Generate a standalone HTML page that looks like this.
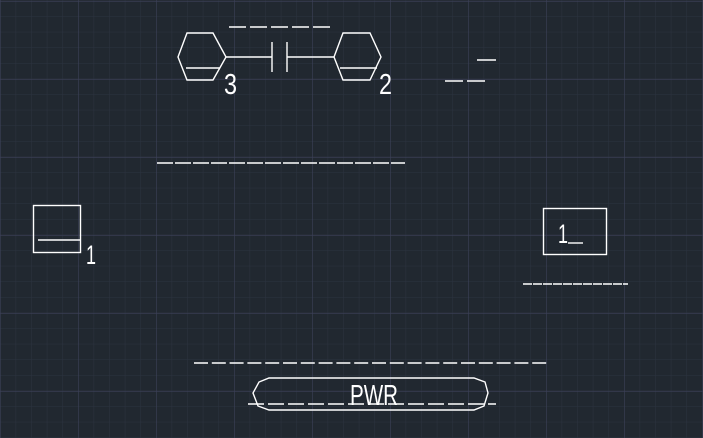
<!DOCTYPE html>
<html><head><style>html,body{margin:0;padding:0;background:#212830;}svg{display:block}</style></head><body>
<svg width="703" height="438" xmlns="http://www.w3.org/2000/svg">
<defs>
<pattern id="mn" width="15.6" height="15.6" patternUnits="userSpaceOnUse" x="0" y="0.6"><path d="M0 0H15.6M0 0V15.6" stroke="#2c3340" stroke-width="1" fill="none"/></pattern>
<pattern id="mj" width="78" height="78" patternUnits="userSpaceOnUse" x="0" y="1"><path d="M0 0H78M0 0V78" stroke="#3b4058" stroke-width="1.2" fill="none"/></pattern>
</defs>
<rect width="703" height="438" fill="#212830"/>
<rect width="703" height="438" fill="url(#mn)"/>
<rect width="703" height="438" fill="url(#mj)"/>
<g stroke="#fff" stroke-width="1.4" fill="none">
<line x1="229" y1="27" x2="333" y2="27" stroke-dasharray="17,4"/>
<polygon points="178,57 187,33 213,33 226,57 213,80 187,80"/>
<line x1="186" y1="68" x2="220" y2="68"/>
<line x1="226" y1="57" x2="272" y2="57"/>
<line x1="272" y1="42" x2="272" y2="72"/>
<line x1="287" y1="42" x2="287" y2="72"/>
<line x1="287" y1="57" x2="334" y2="57"/>
<polygon points="334,57 343,33 370,33 381,57 370,80 343,80"/>
<line x1="340" y1="68" x2="377" y2="68"/>
<line x1="477" y1="60" x2="496" y2="60"/>
<line x1="445" y1="81" x2="486" y2="81" stroke-dasharray="18,4"/>
<line x1="157" y1="163" x2="405" y2="163" stroke-dasharray="16,2"/>
<rect x="33.5" y="205.5" width="47" height="47"/>
<line x1="38" y1="240" x2="80" y2="240"/>
<rect x="543.5" y="208.5" width="63" height="46"/>
<line x1="568" y1="243" x2="583" y2="243"/>
<line x1="523" y1="284" x2="628" y2="284" stroke-dasharray="9,1"/>
<line x1="194" y1="363" x2="549" y2="363" stroke-dasharray="14,3.8"/>
<polygon points="269,378 474,378 485,382 488,393 484,406 474,410 269,410 258,406 253,393 259,382"/>
<line x1="248" y1="404" x2="496" y2="404" stroke-dasharray="16,4"/>
</g>
<g fill="#fff" font-family="'Liberation Sans',sans-serif">
<text x="224" y="94" font-size="29" textLength="13" lengthAdjust="spacingAndGlyphs">3</text>
<text x="379" y="94" font-size="29" textLength="13" lengthAdjust="spacingAndGlyphs">2</text>
<text x="86" y="264" font-size="27" textLength="10" lengthAdjust="spacingAndGlyphs">1</text>
<text x="558" y="243" font-size="27" textLength="10" lengthAdjust="spacingAndGlyphs">1</text>
<text x="350" y="405" font-size="29" textLength="48" lengthAdjust="spacingAndGlyphs">PWR</text>
</g>
</svg>
</body></html>
